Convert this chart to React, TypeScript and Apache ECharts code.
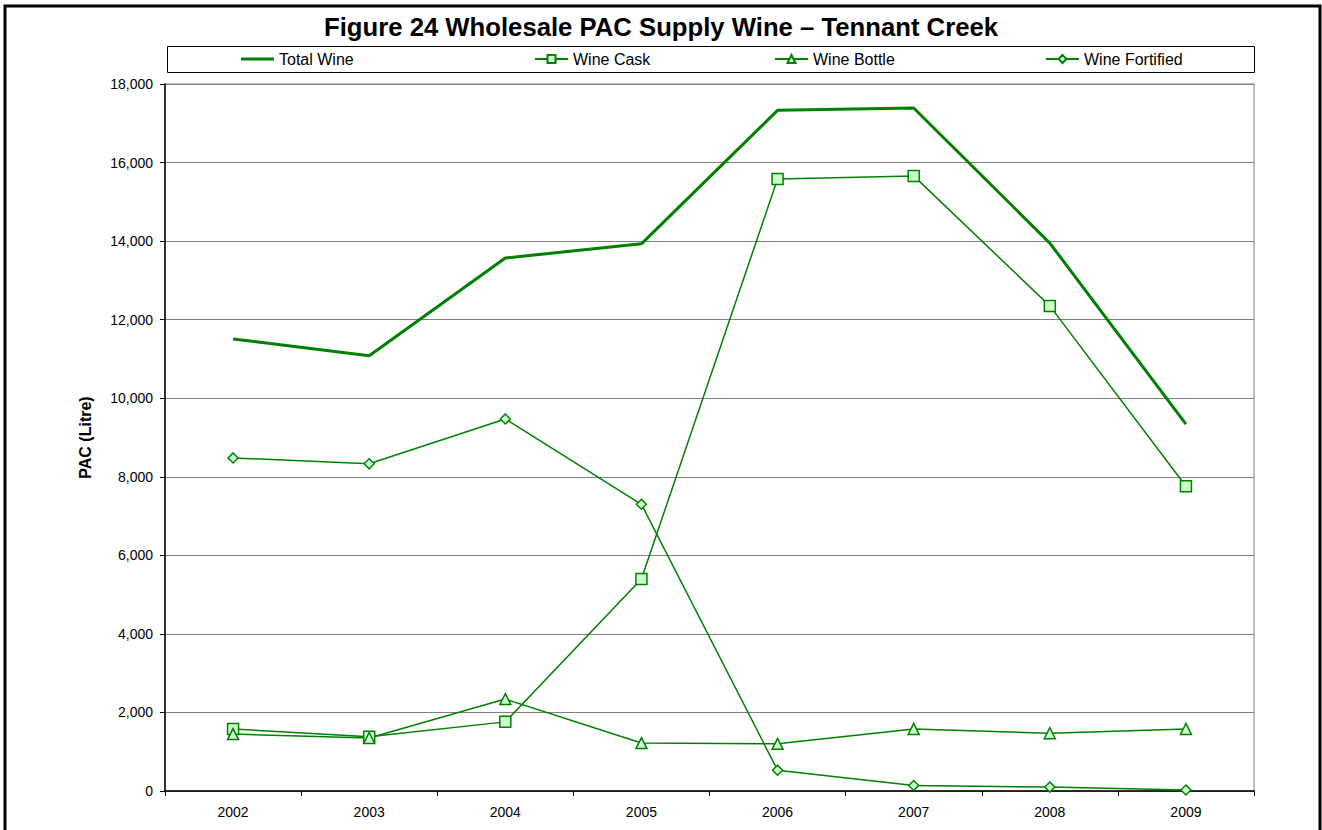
import React, { useEffect, useRef } from "react";
import * as echarts from "echarts";

const years = ["2002", "2003", "2004", "2005", "2006", "2007", "2008", "2009"];
const totalWine = [11510, 11080, 13570, 13930, 17330, 17390, 13950, 9340];
const wineCask = [1580, 1380, 1760, 5400, 15580, 15660, 12350, 7760];
const wineBottle = [1450, 1350, 2340, 1220, 1200, 1580, 1470, 1580];
const wineFortified = [8480, 8330, 9470, 7300, 530, 140, 100, 25];

const GREEN = "#008000";
const FILL = "#ccffcc";
const FONT = "'Liberation Sans', Arial, sans-serif";

export default function App() {
  const ref = useRef<HTMLDivElement>(null);
  useEffect(() => {
    if (!ref.current) return;
    const chart = echarts.init(ref.current, null, { renderer: "svg" });
    const thin = (name: string, data: number[], symbol: string, size: number) => ({
      name,
      type: "line",
      data,
      symbol,
      symbolSize: size,
      showAllSymbol: true,
      lineStyle: { color: GREEN, width: 1.5 },
      itemStyle: { color: FILL, borderColor: GREEN, borderWidth: 1.5 },
      emphasis: { disabled: true },
    });
    const legendBase = {
      top: 46,
      itemWidth: 33,
      itemHeight: 10,
      itemGap: 5,
      textStyle: { fontFamily: FONT, fontSize: 16, color: "#000" },
      selectedMode: false,
    };
    chart.setOption({
      animation: false,
      backgroundColor: "#fff",
      title: {
        text: "Figure 24 Wholesale PAC Supply Wine \u2013 Tennant Creek",
        left: "center",
        top: 9,
        textStyle: { fontFamily: FONT, fontSize: 25.7, fontWeight: "bold", color: "#000" },
      },
      legend: [
        { ...legendBase, left: 236, data: [{ name: "Total Wine", icon: "rect" }], itemHeight: 3 },
        { ...legendBase, left: 529, data: ["Wine Cask"] },
        { ...legendBase, left: 769, data: ["Wine Bottle"] },
        { ...legendBase, left: 1040, data: ["Wine Fortified"] },
      ],
      graphic: [
        {
          type: "rect",
          shape: { x: 5, y: 6, width: 1315, height: 900 },
          style: { fill: "none", stroke: "#000", lineWidth: 3 },
          silent: true,
        },
        {
          type: "rect",
          shape: { x: 167.5, y: 46.5, width: 1087, height: 26 },
          style: { fill: "none", stroke: "#000", lineWidth: 1 },
          silent: true,
        },
      ],
      grid: {
        left: 165,
        right: 68,
        top: 84,
        bottom: 39,
        show: true,
        borderColor: "#808080",
        borderWidth: 1,
      },
      xAxis: {
        type: "category",
        data: years,
        boundaryGap: true,
        axisLine: { lineStyle: { color: "#000", width: 1.5 } },
        axisTick: { show: true, interval: 0, length: 5, inside: false, lineStyle: { color: "#000" } },
        axisLabel: { fontFamily: FONT, fontSize: 14, color: "#000", margin: 14, interval: 0 },
        splitLine: { show: false },
      },
      yAxis: {
        type: "value",
        min: 0,
        max: 18000,
        interval: 2000,
        name: "PAC (Litre)",
        nameLocation: "middle",
        nameGap: 72,
        nameTextStyle: { fontFamily: FONT, fontSize: 16, fontWeight: "bold", color: "#000" },
        axisLine: { show: true, lineStyle: { color: "#000", width: 1.5 } },
        axisTick: { show: true, length: 5, lineStyle: { color: "#000" } },
        axisLabel: {
          fontFamily: FONT,
          fontSize: 14,
          color: "#000",
          margin: 12,
          formatter: (v: number) => v.toLocaleString("en-US"),
        },
        splitLine: { show: true, lineStyle: { color: "#808080", width: 1 } },
      },
      series: [
        {
          name: "Total Wine",
          type: "line",
          data: totalWine,
          symbol: "none",
          lineStyle: { color: GREEN, width: 3 },
          itemStyle: { color: GREEN },
          emphasis: { disabled: true },
        },
        thin("Wine Cask", wineCask, "rect", 11),
        thin("Wine Bottle", wineBottle, "triangle", 11),
        thin("Wine Fortified", wineFortified, "diamond", 10),
      ],
    });
    return () => chart.dispose();
  }, []);
  return (
    <div
      ref={ref}
      style={{ position: "absolute", left: 0, top: 0, width: 1322, height: 830 }}
    />
  );
}
